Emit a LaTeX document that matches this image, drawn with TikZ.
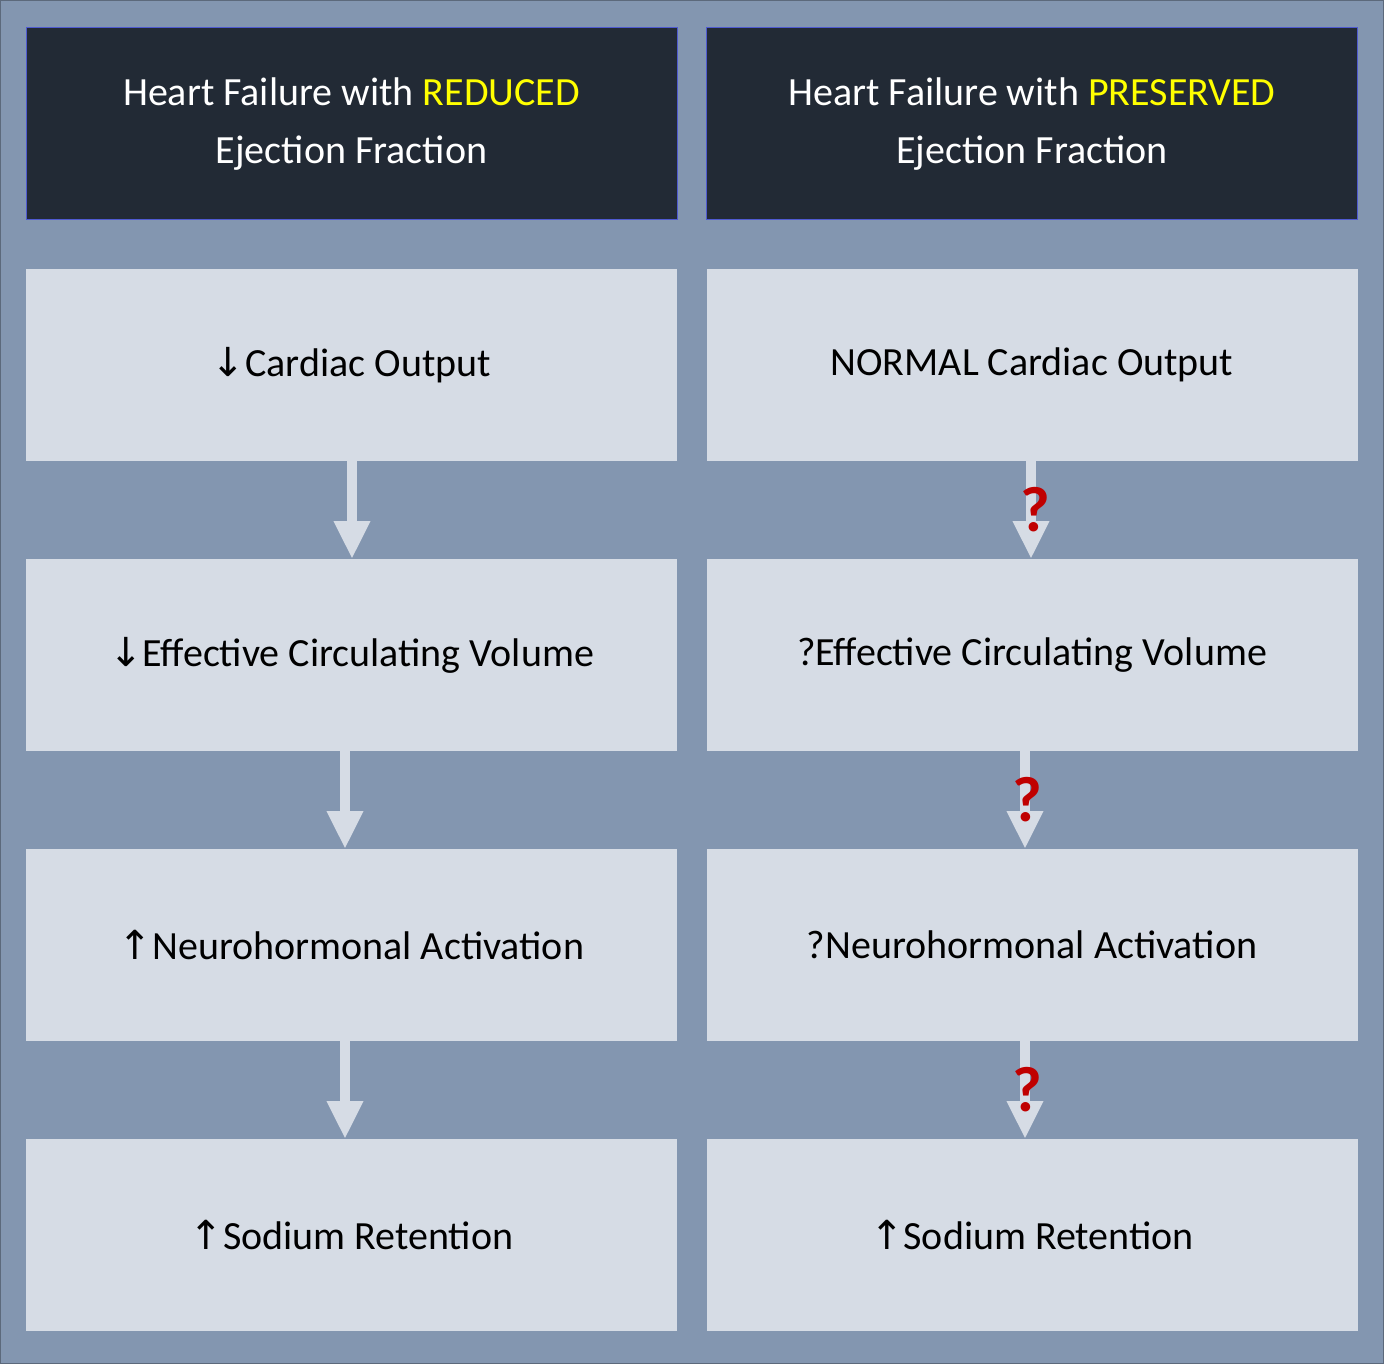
\documentclass[tikz,border=0pt]{standalone}
\usepackage{fontspec}
\usetikzlibrary{arrows.meta}
\setmainfont{Carlito}
\newfontfamily\arr{DejaVu Sans}
\definecolor{bg}{HTML}{8396B0}
\definecolor{hdr}{HTML}{222A35}
\definecolor{box}{HTML}{D6DCE5}
\definecolor{yel}{HTML}{FFFF00}
\definecolor{qred}{HTML}{C00000}
\begin{document}
\begin{tikzpicture}[x=1pt,y=-1pt,
  hbox/.style={draw=bg!60!blue, line width=1pt, fill=hdr, text=white, minimum width=651pt, minimum height=192pt, align=center, font=\fontsize{40}{58}\selectfont, inner sep=0},
  cbox/.style={fill=box, minimum width=651pt, minimum height=192pt, font=\fontsize{40}{48}\selectfont, inner sep=0},
  flow/.style={draw=box, line width=10pt, -{Triangle[width=34pt,length=38pt]}, shorten >=0pt},
  qm/.style={text=qred, font=\bfseries\fontsize{64}{64}\selectfont}]
\fill[bg] (0,0) rectangle (1384,1364);
\draw[bg!70!black, line width=1pt] (0.5,0.5) rectangle (1383.5,1363.5);
\node[hbox] (h1) at (351.5,124) {Heart Failure with \textcolor{yel}{REDUCED}\\Ejection Fraction};
\node[hbox] (h2) at (1032,124) {Heart Failure with \textcolor{yel}{PRESERVED}\\Ejection Fraction};
\node[cbox] (l1) at (351.5,365) {{\arr↓}Cardiac Output};
\node[cbox] (l2) at (351.5,655) {{\arr↓}Effective Circulating Volume};
\node[cbox] (l3) at (351.5,945) {{\arr↑}Neurohormonal Activation};
\node[cbox] (l4) at (351.5,1235) {{\arr↑}Sodium Retention};
\node[cbox] (r1) at (1032,365) {NORMAL Cardiac Output};
\node[cbox] (r2) at (1032,655) {?Effective Circulating Volume};
\node[cbox] (r3) at (1032,945) {?Neurohormonal Activation};
\node[cbox] (r4) at (1032,1235) {{\arr↑}Sodium Retention};
\draw[flow] (352,461) -- (352,559);
\draw[flow] (345,751) -- (345,849);
\draw[flow] (345,1041) -- (345,1139);
\draw[flow] (1031,461) -- (1031,559);
\draw[flow] (1025,751) -- (1025,849);
\draw[flow] (1025,1041) -- (1025,1139);
\node[qm] (q1) at (1035,510) {?};
\node[qm] (q2) at (1027,800) {?};
\node[qm] (q3) at (1027,1090) {?};
\end{tikzpicture}
\end{document}
